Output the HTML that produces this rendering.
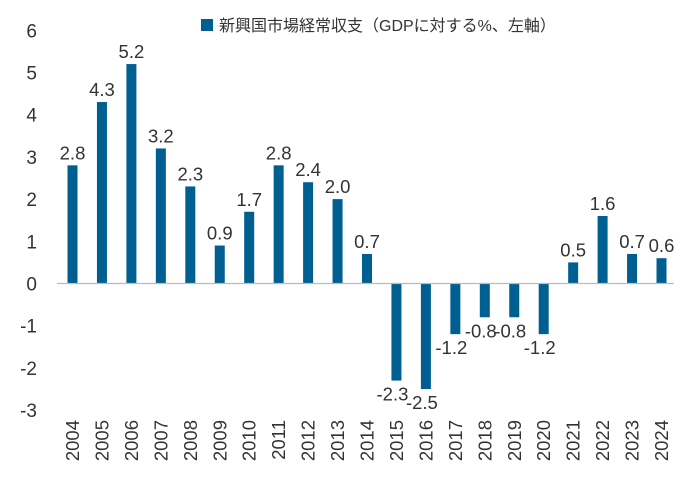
<!DOCTYPE html>
<html><head><meta charset="utf-8"><style>
body{margin:0;background:#fff;}
svg text{font-family:"Liberation Sans","Noto Sans CJK JP",sans-serif;fill:#333;}
</style></head><body>
<svg width="689" height="484" xmlns="http://www.w3.org/2000/svg" id="chart">
<rect x="201" y="19" width="12" height="12" fill="#005f91"/>
<text x="219" y="31" font-size="16">新興国市場経常収支（GDPに対する%、左軸）</text>
</svg>
<script>
const years=["2004","2005","2006","2007","2008","2009","2010","2011","2012","2013","2014","2015","2016","2017","2018","2019","2020","2021","2022","2023","2024"];
const values=[2.8,4.3,5.2,3.2,2.3,0.9,1.7,2.8,2.4,2.0,0.7,-2.3,-2.5,-1.2,-0.8,-0.8,-1.2,0.5,1.6,0.7,0.6];
const yTicks=[6,5,4,3,2,1,0,-1,-2,-3];
const svg=document.getElementById('chart');
const NS='http://www.w3.org/2000/svg';
const y=v=>283.5-v*42.2;
const x=i=>72.5+i*29.45;
function mk(t,a){const e=document.createElementNS(NS,t);for(const k in a)e.setAttribute(k,a[k]);svg.appendChild(e);return e;}
yTicks.forEach(t=>{
  const e=mk('text',{x:37,y:y(t)+7,'text-anchor':'end','font-size':'19'});
  
  
  e.textContent=t;
});
values.forEach((v,i)=>{
  const b=mk('rect',{x:x(i)-5,y:Math.min(y(v),y(0)),width:10,height:Math.abs(y(v)-y(0)),fill:'#005f91'});
  
  
  const l=mk('text',{x:x(i)+(v<0?-4:0),y:v>=0?y(v)-6:y(v)+20,'text-anchor':'middle','font-size':'18.5'});
  
  
  l.textContent=v.toFixed(1);
  const yl=mk('text',{x:0,y:0,'text-anchor':'end','font-size':'18.5',transform:'translate('+(x(i)+6.5)+',420) rotate(-90)'});
  
  
  yl.textContent=years[i];
});
const ax=mk('line',{x1:57,x2:674,y1:y(0),y2:y(0),stroke:'#bbb','stroke-width':1.2});


</script>
</body></html>
